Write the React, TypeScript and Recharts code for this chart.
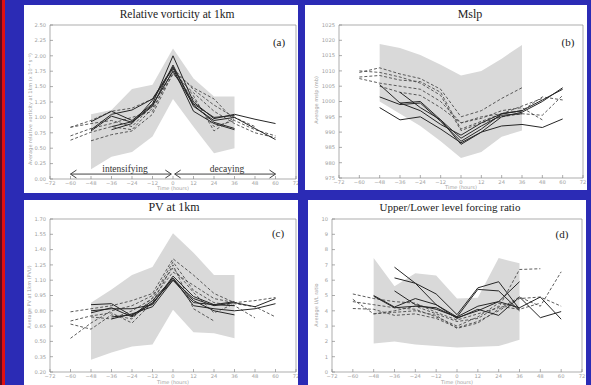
import React from 'react';
import { ComposedChart, Line, Area, XAxis, YAxis, ReferenceLine } from 'recharts';

const _ = null;

// time axis (hours relative to peak)
const hours = [-60, -48, -36, -24, -12, 0, 12, 24, 36, 48, 60];
const hourTicks = [-72, -60, -48, -36, -24, -12, 0, 12, 24, 36, 48, 60, 72];

// (a) relative vorticity at 1km
const vortTicks = [0, 0.25, 0.5, 0.75, 1, 1.25, 1.5, 1.75, 2, 2.25, 2.5];
const vortLow = [_, 0.16, 0.36, 0.44, 0.69, 1.30, 0.85, 0.42, 0.50, _, _];
const vortHigh = [_, 1.05, 1.12, 1.46, 1.53, 2.12, 1.63, 1.34, 1.34, _, _];
const vortSolid = [
  [_, 0.93, 1.10, 0.95, 1.22, 2.00, 1.25, 0.98, 1.05, 0.97, 0.90],
  [_, 0.78, 1.02, 0.92, 1.18, 1.85, 1.18, 0.95, 1.00, 0.82, 0.64],
  [_, _, 0.80, 0.90, 1.28, 1.80, 1.10, 0.90, 0.80, _, _],
  [_, _, 0.85, 0.93, 1.20, 1.75, 1.20, 0.92, 0.82, _, _],
  [_, 0.80, 1.05, 1.12, 1.30, 1.82, 1.22, 1.00, 1.03, _, _],
];
const vortDashed = [
  [0.84, 0.90, 0.95, 0.85, 1.20, 1.75, 1.48, 1.30, 0.95, 0.80, 0.70],
  [0.63, 0.76, 0.85, 0.80, 1.15, 1.70, 1.40, 1.10, 0.90, 0.75, 0.67],
  [0.84, 0.95, 1.10, 1.15, 1.30, 1.80, 1.45, 1.20, 1.00, _, _],
  [_, 0.62, 0.72, 0.78, 1.05, 1.72, 1.30, 0.85, 0.95, _, _],
  [0.70, 0.82, 0.90, 1.00, 1.10, 1.78, 1.35, 0.78, 1.00, 0.85, _],
];

// (b) mslp
const mslpTicks = [975, 980, 985, 990, 995, 1000, 1005, 1010, 1015, 1020, 1025];
const mslpLow = [_, 1000, 996, 992, 987, 981.5, 983.5, 988.5, 990.5, _, _];
const mslpHigh = [_, 1018.8, 1017.5, 1015.2, 1012, 1008.5, 1010, 1014, 1018.5, _, _];
const mslpSolid = [
  [_, 1005.5, 999.5, 1000, 994, 986, 990, 995, 996.5, 1000, 1004.5],
  [_, 1001.5, 999, 999.5, 993.5, 987, 991, 996, 997, 1000.5, 1004],
  [_, 998, 994, 995, 991, 986.5, 990, 992, 992.5, 991.5, 994.3],
  [_, _, 1003, 998, 994, 988, 992, 995.5, 996, _, _],
  [_, _, 999.5, 997, 992.5, 989, 993, 996, 997, _, _],
];
const mslpDashed = [
  [1009.5, 1011, 1009, 1007.5, 1004, 995, 997, 1001, 1004.5, _, _],
  [1007.5, 1006, 1005, 1004, 1000, 993, 995, 996, 997, 1001.5, 1000.5],
  [1010, 1009.5, 1008, 1006, 1002, 990.5, 993, 995, 996, 995.5, 1002],
  [_, 1005, 1003, 1002, 998, 993, 994.5, 997, 998, 994, _],
  [1008, 1008.5, 1007, 1006.5, 1003, 991, 993.5, 996, 998.5, 1001, _],
];

// (c) PV at 1km
const pvTicks = [0.2, 0.35, 0.5, 0.65, 0.8, 0.95, 1.1, 1.25, 1.4, 1.55, 1.7];
const pvLow = [_, 0.32, 0.39, 0.45, 0.47, 0.81, 0.59, 0.58, 0.53, _, _];
const pvHigh = [_, 0.88, 1.01, 1.15, 1.23, 1.56, 1.37, 1.15, 1.15, _, _];
const pvSolid = [
  [_, 0.86, 0.87, 0.75, 0.90, 1.12, 0.85, 0.82, 0.80, 0.82, 0.87],
  [_, 0.78, 0.83, 0.74, 0.88, 1.10, 0.92, 0.85, 0.88, 0.84, 0.92],
  [_, _, 0.74, 0.76, 0.87, 1.12, 0.90, 0.80, 0.76, _, _],
  [_, _, 0.72, 0.77, 0.84, 1.10, 0.88, 0.86, 0.85, _, _],
  [_, 0.80, 0.82, 0.82, 0.86, 1.14, 0.94, 0.86, 0.89, _, _],
];
const pvDashed = [
  [0.79, 0.82, 0.85, 0.90, 0.97, 1.31, 1.15, 0.97, 0.88, 0.90, 0.93],
  [0.67, 0.62, 0.76, 0.72, 0.93, 1.28, 1.00, 0.88, 0.85, 0.73, _],
  [0.53, 0.68, 0.80, 0.85, 0.95, 1.22, 0.98, 0.78, 0.87, 0.84, 0.74],
  [0.70, 0.75, 0.78, 0.68, 0.88, 1.25, 0.82, 0.70, _, _, _],
  [_, 0.74, 0.72, 0.80, 0.92, 1.18, 1.05, 0.92, 0.88, _, _],
];

// (d) upper/lower level forcing ratio
const ratioTicks = [0, 1, 2, 3, 4, 5, 6, 7, 8, 9, 10];
const ratioLow = [_, 1.87, 2.0, 1.8, 1.7, 1.6, 1.65, 1.7, 2.1, _, _];
const ratioHigh = [_, 7.45, 5.6, 6.45, 6.3, 4.8, 4.85, 7.45, 7.1, _, _];
const ratioSolid = [
  [_, _, 6.85, 5.8, 4.4, 3.6, 5.4, 5.3, 4.0, _, _],
  [_, _, 6.15, 5.8, 5.1, 3.75, 5.5, 5.9, 4.1, _, _],
  [_, 5.0, 4.25, 4.8, 4.4, 3.5, 4.1, 3.7, 4.9, 3.55, 3.95],
  [_, 4.95, 4.2, 4.3, 4.2, 3.55, 4.0, 4.6, 4.2, 4.9, 3.45],
  [_, _, 5.3, 4.4, 4.1, 3.6, 4.3, 4.6, 5.9, _, _],
];
const ratioDashed = [
  [5.1, 4.8, 4.6, 4.5, 3.9, 3.4, 3.8, 4.2, 6.7, 6.75, _],
  [4.75, 3.8, 3.9, 4.0, 3.7, 2.85, 3.2, 4.1, 4.9, 4.3, 6.55],
  [4.15, 4.1, 3.7, 3.8, 3.5, 2.9, 3.3, 4.0, 4.8, 4.9, 4.3],
  [4.6, 4.4, 4.2, 4.1, 3.6, 3.0, 3.6, 4.5, 4.2, _, _],
  [_, 3.8, 4.0, 4.3, 3.8, 3.3, 3.5, 4.3, 4.1, 4.5, _],
];

// phase arrows in panel (a)
const arrowY = 0.08;
const intensifying = [-60, -1];
const decaying = [1, 60];

const BLUE = '#2b2bb5';
const tickFont = { fontSize: 5.2, fill: '#a0a0a0', fontFamily: 'DejaVu Sans' };
const axisStroke = { stroke: '#8a8a8a', strokeWidth: 0.7 };

const fmtHour = (v: number) => (v < 0 ? '\u2212' + Math.abs(v) : String(v));

function buildRows(low: any[], high: any[], solid: any[][], dashed: any[][]) {
  return hours.map((h, i) => {
    const row: any = { h, band: low[i] == null ? null : [low[i], high[i]] };
    solid.forEach((s, k) => (row['s' + k] = s[i]));
    dashed.forEach((s, k) => (row['d' + k] = s[i]));
    return row;
  });
}

function Panel(p: any) {
  const rows = buildRows(p.low, p.high, p.solid, p.dashed);
  const dom = [p.yTicks[0], p.yTicks[p.yTicks.length - 1]];
  return (
    <div style={{ position: 'absolute', left: p.left, top: p.top, width: p.width, height: p.height, background: '#fff' }}>
      <ComposedChart
        width={p.width}
        height={p.height}
        data={rows}
        margin={{ top: p.plotTop - 1, right: p.width - p.plotRight - 1, bottom: 0, left: 0 }}
      >
        <XAxis dataKey="h" type="number" domain={[-72, 72]} ticks={hourTicks} interval={0}
          tickFormatter={fmtHour} height={p.height - p.plotBottom} tickSize={-3} tickMargin={5}
          axisLine={axisStroke} tickLine={axisStroke} tick={tickFont} />
        <XAxis xAxisId="top" orientation="top" dataKey="h" type="number" domain={[-72, 72]} ticks={hourTicks}
          interval={0} height={1} tickSize={-3} tick={false} axisLine={axisStroke} tickLine={axisStroke} />
        <YAxis type="number" domain={dom} ticks={p.yTicks} interval={0} width={p.plotLeft}
          tickFormatter={p.fmt} tickSize={-3} tickMargin={7}
          axisLine={axisStroke} tickLine={axisStroke} tick={tickFont} />
        <YAxis yAxisId="right" orientation="right" type="number" domain={dom} ticks={p.yTicks} interval={0}
          width={1} tickSize={-3} tick={false} axisLine={axisStroke} tickLine={axisStroke} />
        <Area dataKey="band" fill="#d9d9d9" fillOpacity={1} stroke="none" isAnimationActive={false} />
        {p.dashed.map((_s: any, k: number) => (
          <Line key={'d' + k} dataKey={'d' + k} stroke="#4a4a4a" strokeWidth={0.9} strokeDasharray="3 2"
            dot={false} isAnimationActive={false} />
        ))}
        {p.solid.map((_s: any, k: number) => (
          <Line key={'s' + k} dataKey={'s' + k} stroke="#262626" strokeWidth={1} dot={false} isAnimationActive={false} />
        ))}
        {p.arrows &&
          [intensifying, decaying].map((seg, k) => (
            <ReferenceLine key={'a' + k} segment={[{ x: seg[0], y: arrowY }, { x: seg[1], y: arrowY }]}
              stroke="#444" strokeWidth={1} ifOverflow="visible" />
          ))}
        {p.arrows &&
          [intensifying[0], intensifying[1], decaying[0], decaying[1]].map((tip, k) => {
            const back = k % 2 === 0 ? 3.5 : -3.5;
            return [0.065, -0.065].map((dy, j) => (
              <ReferenceLine key={'h' + k + j} segment={[{ x: tip, y: arrowY }, { x: tip + back, y: arrowY + dy }]}
                stroke="#444" strokeWidth={1} ifOverflow="visible" />
            ));
          })}
      </ComposedChart>
      <div style={{ position: 'absolute', left: p.titleX, top: p.titleY, transform: 'translate(-50%,-50%)', whiteSpace: 'nowrap',
        fontFamily: 'Liberation Serif', fontSize: p.titleSize, color: '#222' }}>{p.title}</div>
      <div style={{ position: 'absolute', left: p.tagX, top: p.tagY, transform: 'translate(-50%,-50%)',
        fontFamily: 'Liberation Serif', fontSize: 11, color: '#222' }}>{p.tag}</div>
      <div style={{ position: 'absolute', left: p.ylabX, top: p.ylabY, transform: 'translate(-50%,-50%) rotate(-90deg)',
        whiteSpace: 'nowrap', fontFamily: 'DejaVu Sans', fontSize: 5, color: '#a0a0a0' }}>{p.ylabel}</div>
      <div style={{ position: 'absolute', left: (p.plotLeft + p.plotRight) / 2, top: p.timeY, transform: 'translate(-50%,-50%)',
        whiteSpace: 'nowrap', fontFamily: 'DejaVu Sans', fontSize: 5, color: '#a0a0a0' }}>Time (hours)</div>
      {p.arrows && (
        <>
          <div style={{ position: 'absolute', left: 101, top: 164, transform: 'translate(-50%,-50%)',
            fontFamily: 'Liberation Serif', fontSize: 9.5, color: '#333' }}>intensifying</div>
          <div style={{ position: 'absolute', left: 203, top: 164, transform: 'translate(-50%,-50%)',
            fontFamily: 'Liberation Serif', fontSize: 9.5, color: '#333' }}>decaying</div>
        </>
      )}
    </div>
  );
}

export default function App() {
  return (
    <div style={{ position: 'fixed', left: 0, top: 0, width: 591, height: 385, background: BLUE, overflow: 'hidden' }}>
      <div style={{ position: 'absolute', left: 0, top: 0, width: 2, height: 385, background: '#5a0a20' }} />
      <div style={{ position: 'absolute', left: 2, top: 0, width: 3, height: 385, background: '#e01010' }} />
      <Panel left={24} top={5} width={274} height={188} plotLeft={26} plotRight={272} plotTop={20} plotBottom={174}
        yTicks={vortTicks} fmt={(v: number) => v.toFixed(2)} low={vortLow} high={vortHigh}
        solid={vortSolid} dashed={vortDashed} arrows
        title="Relative vorticity at 1km" titleX={153} titleY={9} titleSize={11.5}
        tag="(a)" tagX={255} tagY={37}
        ylabel="Average relative vorticity at 1km (x 10⁻⁴ s⁻¹)" ylabX={6} ylabY={104} timeY={182.5} />
      <Panel left={305} top={5} width={282} height={185} plotLeft={34} plotRight={278} plotTop={20} plotBottom={173}
        yTicks={mslpTicks} fmt={(v: number) => String(v)} low={mslpLow} high={mslpHigh}
        solid={mslpSolid} dashed={mslpDashed}
        title="Mslp" titleX={165} titleY={9} titleSize={12}
        tag="(b)" tagX={263} tagY={37}
        ylabel="Average mslp (mb)" ylabX={11} ylabY={95} timeY={182} />
      <Panel left={24} top={200} width={274} height={185} plotLeft={26} plotRight={272} plotTop={19} plotBottom={172}
        yTicks={pvTicks} fmt={(v: number) => v.toFixed(2)} low={pvLow} high={pvHigh}
        solid={pvSolid} dashed={pvDashed}
        title="PV at 1km" titleX={150} titleY={7} titleSize={12}
        tag="(c)" tagX={254} tagY={33}
        ylabel="Average PV at 1km (PVU)" ylabX={5} ylabY={97} timeY={182} />
      <Panel left={308} top={200} width={278} height={185} plotLeft={24} plotRight={274} plotTop={19} plotBottom={172}
        yTicks={ratioTicks} fmt={(v: number) => String(v)} low={ratioLow} high={ratioHigh}
        solid={ratioSolid} dashed={ratioDashed}
        title="Upper/Lower level forcing ratio" titleX={142} titleY={7} titleSize={11}
        tag="(d)" tagX={254} tagY={34}
        ylabel="Average U/L ratio" ylabX={8} ylabY={105} timeY={182} />
    </div>
  );
}
